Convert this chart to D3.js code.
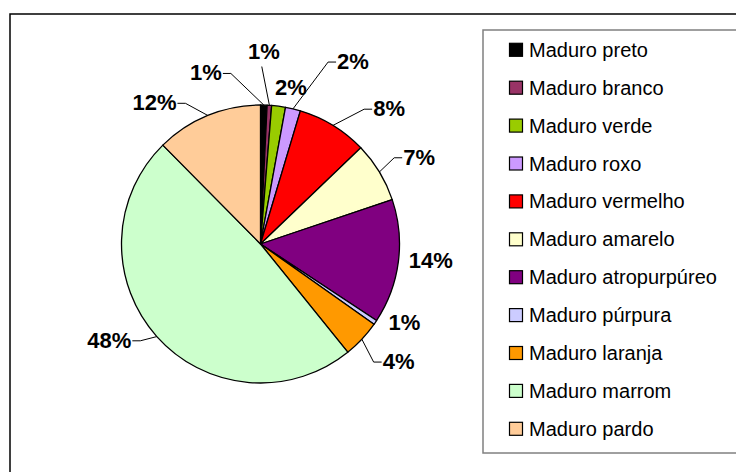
<!DOCTYPE html>
<html lang="pt">
  <head>
    <meta charset="utf-8">
    <title>Maduro</title>
    <style>
      body {
        margin: 0;
        background: #fff;
      }
      svg {
        display: block;
        font-family: "Liberation Sans", Arial, sans-serif;
      }
      .pct {
        font-size: 22px;
        font-weight: bold;
      }
      .legend text {
        font-size: 20px;
      }
    </style>
  </head>
  <body>
    <svg id="chart" width="736" height="472"></svg>

    <script src="https://d3js.org/d3.v7.min.js"></script>
    <script>
      // categories and values (percent of total)
      const categories = ["Maduro preto", "Maduro branco", "Maduro verde", "Maduro roxo",
        "Maduro vermelho", "Maduro amarelo", "Maduro atropurpúreo", "Maduro púrpura",
        "Maduro laranja", "Maduro marrom", "Maduro pardo"];
      const values = [0.76, 0.52, 1.6, 1.75, 8.2, 7.0, 14.45, 0.52, 4.4, 48.4, 12.4];
      const colors = ["#000000", "#993366", "#99cc00", "#cc99ff", "#ff0000", "#ffffcc",
        "#800080", "#ccccff", "#ff9900", "#ccffcc", "#ffcc99"];

      // label placement: [angle shift in degrees from slice middle, distance from centre]
      const labelPlace = [[-19, 180], [-2.7, 193], [3.5, 160], [13.3, 205], [12, 187], [2.4, 181],
        [-1.9, 171], [-6, 163.5], [-2.9, 181], [9.4, 179], [-14.5, 177]];

      const svg = d3.select("#chart");
      const cx = 260.5, cy = 244, r = 139;

      // outer frame
      svg.append("rect").attr("x", 10).attr("y", 14).attr("width", 760).attr("height", 500)
        .attr("fill", "none").attr("stroke", "#000").attr("stroke-width", 1.5);

      const total = d3.sum(values);
      const pie = d3.pie().sort(null).value(d => d)(values);
      const arc = d3.arc().innerRadius(0).outerRadius(r);

      const g = svg.append("g").attr("transform", `translate(${cx},${cy})`);

      g.selectAll("path.slice").data(pie).enter().append("path")
        .attr("class", "slice")
        .attr("d", arc)
        .attr("fill", (d, i) => colors[i])
        .attr("stroke", "#000")
        .attr("stroke-width", 1.3)
        .attr("stroke-linejoin", "round");

      const polar = (a, rad) => [rad * Math.sin(a), -rad * Math.cos(a)];
      const fmt = v => Math.round(v / total * 100) + "%";

      pie.forEach((d, i) => {
        const mid = (d.startAngle + d.endAngle) / 2;
        const [shift, dist] = labelPlace[i];
        const [lx, ly] = polar(mid + shift * Math.PI / 180, dist);
        const [ex, ey] = polar(mid, r);

        const t = g.append("text").attr("class", "pct")
          .attr("x", lx).attr("y", ly).attr("dy", "0.36em")
          .attr("text-anchor", "middle")
          .text(fmt(values[i]));

        const bb = t.node().getBBox();
        const x0 = bb.x, x1 = bb.x + bb.width;
        const top = ly - 8.5, bottom = ly + 8.5;

        // distance from slice edge to label box
        const ddx = Math.max(x0 - ex, 0, ex - x1);
        const ddy = Math.max(top - ey, 0, ey - bottom);
        if (Math.hypot(ddx, ddy) < 15) return;

        let pts;
        if (ex >= x0 && ex <= x1) {
          const sy = ey > ly ? bottom + 7 : top - 7;
          pts = [[lx - 2, sy], [ex, ey]];
        } else {
          const side = ex > x1 ? x1 + 1 : x0 - 1;
          const dir = ex > x1 ? 1 : -1;
          pts = [[side, ly + 1], [side + dir * 8, ly + 1], [ex, ey]];
        }
        g.append("path").attr("d", d3.line()(pts))
          .attr("fill", "none").attr("stroke", "#000").attr("stroke-width", 1);
      });

      // legend
      const legend = svg.append("g").attr("class", "legend");
      legend.append("rect").attr("x", 483).attr("y", 30).attr("width", 300).attr("height", 423)
        .attr("fill", "#fff").attr("stroke", "#808080").attr("stroke-width", 1.5);

      const ly = d3.scalePoint().domain(categories).range([50.3, 429.3]);

      const rows = legend.selectAll("g.row").data(categories).enter().append("g")
        .attr("class", "row")
        .attr("transform", d => `translate(0,${ly(d)})`);

      rows.append("rect").attr("x", 509.5).attr("y", -7).attr("width", 13).attr("height", 13)
        .attr("fill", (d, i) => colors[i]).attr("stroke", "#000").attr("stroke-width", 1.2);

      rows.append("text").attr("x", 529).attr("y", 6.5).text(d => d);
    </script>
  </body>
</html>
